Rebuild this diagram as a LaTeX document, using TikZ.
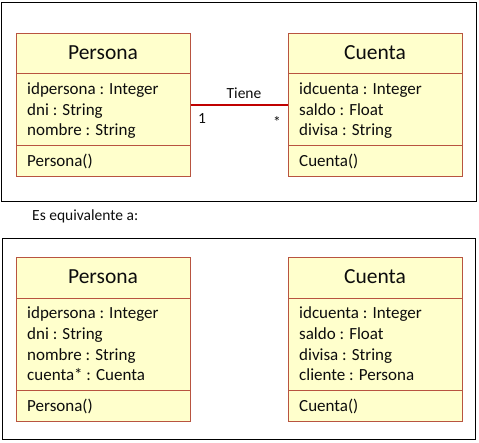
\documentclass[tikz,border=0pt]{standalone}
\usepackage{fontspec}
\setmainfont{Carlito}
\definecolor{boxfill}{RGB}{255,255,204}
\definecolor{boxline}{RGB}{184,84,64}
\definecolor{assoc}{RGB}{192,0,0}
\definecolor{txt}{RGB}{13,13,13}
\begin{document}
\begin{tikzpicture}[x=1pt,y=-1pt,
  part/.style={draw=boxline, fill=boxfill, line width=1.3pt, minimum width=174pt, inner sep=0pt, anchor=north west},
  frame/.style={draw=black, line width=1pt},
  ctitle/.style={font=\fontsize{21.5}{24}\selectfont, text=txt, anchor=base, inner sep=0pt},
  attr/.style={font=\fontsize{17}{20}\selectfont, text=txt, anchor=base west, inner sep=0pt},
  lbl/.style={font=\fontsize{15.5}{18}\selectfont, text=txt, anchor=base, inner sep=0pt},
  assocline/.style={draw=assoc, line width=2pt}]
\useasboundingbox (0,0) rectangle (479,443);
% frames
\draw[frame] (1.5,2.5) rectangle (476,202);
\draw[frame] (2.5,238.5) rectangle (475.5,439);

% ===== top Persona =====
\node[part, minimum height=40pt] (p1t) at (16,33) {};
\node[part, minimum height=72pt] (p1a) at (16,73) {};
\node[part, minimum height=31pt] (p1m) at (16,145) {};
\node[ctitle] (p1n) at (103,60) {Persona};
\node[attr] (p1a1) at (27,95) {idpersona : Integer};
\node[attr] (p1a2) at (27,115.5) {dni : String};
\node[attr] (p1a3) at (27,136) {nombre : String};
\node[attr] (p1m1) at (27,167) {Persona()};

% ===== top Cuenta =====
\node[part, minimum height=40pt] (c1t) at (288,33) {};
\node[part, minimum height=72pt] (c1a) at (288,73) {};
\node[part, minimum height=31pt] (c1m) at (288,145) {};
\node[ctitle] (c1n) at (375,60) {Cuenta};
\node[attr] (c1a1) at (299,95) {idcuenta : Integer};
\node[attr] (c1a2) at (299,115.5) {saldo : Float};
\node[attr] (c1a3) at (299,136) {divisa : String};
\node[attr] (c1m1) at (299,167) {Cuenta()};

% association
\draw[assocline] ([yshift=5pt]p1a.east) -- ([yshift=5pt]c1a.west);
\node[lbl] (tiene) at (244,99) {Tiene};
\node[lbl] (m1) at (202,124) {1};
\node[lbl] (m2) at (277,128) {*};

% caption
\node[lbl, anchor=base west] (eq) at (32,221) {Es equivalente a:};

% ===== bottom Persona =====
\node[part, minimum height=41pt] (p2t) at (16,257) {};
\node[part, minimum height=92pt] (p2a) at (16,298) {};
\node[part, minimum height=31pt] (p2m) at (16,390) {};
\node[ctitle] (p2n) at (103,283.5) {Persona};
\node[attr] (p2a1) at (27,319) {idpersona : Integer};
\node[attr] (p2a2) at (27,339.5) {dni : String};
\node[attr] (p2a3) at (27,360) {nombre : String};
\node[attr] (p2a4) at (27,380.5) {cuenta* : Cuenta};
\node[attr] (p2m1) at (27,411) {Persona()};

% ===== bottom Cuenta =====
\node[part, minimum height=41pt] (c2t) at (288,257) {};
\node[part, minimum height=92pt] (c2a) at (288,298) {};
\node[part, minimum height=31pt] (c2m) at (288,390) {};
\node[ctitle] (c2n) at (375,283.5) {Cuenta};
\node[attr] (c2a1) at (299,319) {idcuenta : Integer};
\node[attr] (c2a2) at (299,339.5) {saldo : Float};
\node[attr] (c2a3) at (299,360) {divisa : String};
\node[attr] (c2a4) at (299,380.5) {cliente : Persona};
\node[attr] (c2m1) at (299,411) {Cuenta()};
\end{tikzpicture}
\end{document}
